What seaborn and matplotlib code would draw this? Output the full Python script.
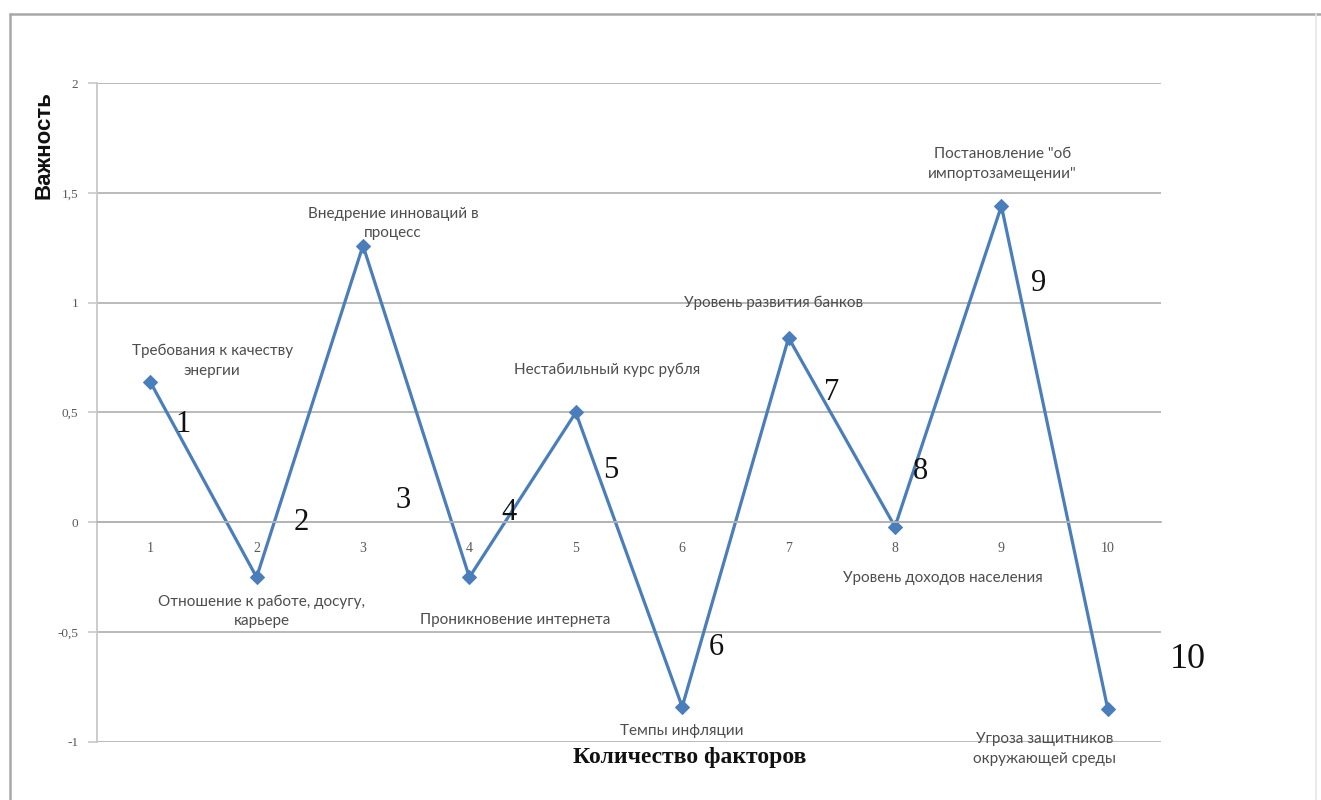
import matplotlib
matplotlib.use("Agg")
import matplotlib.pyplot as plt
import matplotlib.ticker as mticker
from matplotlib.lines import Line2D
import numpy as np
import seaborn as sns

# Factor index and its assessed importance
factors = [1, 2, 3, 4, 5, 6, 7, 8, 9, 10]
importance = [0.64, -0.25, 1.26, -0.25, 0.50, -0.84, 0.84, -0.02, 1.44, -0.85]

factor_names = [
    "Требования к качеству\nэнергии",
    "Отношение к работе, досугу,\nкарьере",
    "Внедрение инноваций в\nпроцесс",
    "Проникновение интернета",
    "Нестабильный курс рубля",
    "Темпы инфляции",
    "Уровень развития банков",
    "Уровень доходов населения",
    "Постановление \"об\nимпортозамещении\"",
    "Угроза защитников\nокружающей среды",
]
factor_numbers = ["1", "2", "3", "4", "5", "6", "7", "8", "9", "10"]

y_ticks = [-1, -0.5, 0, 0.5, 1, 1.5, 2]
y_tick_labels = ["-1", "-0,5", "0", "0,5", "1", "1,5", "2"]

# Label placement (pixel offsets from each point; y grows downward here)
name_offsets = [(62, -21), (5, 34), (30, -22), (46, 43), (31, -43),
                (0, 24), (-15, -35), (48, 51), (1, -42), (-63, 40)]
number_offsets = [(33, 43), (45, -55), (40, 255), (40, -65), (35, 58),
                  (34, -59), (43, 55), (25, -55), (37, 77), (80, -50)]

sns.set_theme(style="white")
plt.rcParams["font.family"] = ["Lato", "DejaVu Sans"]

W, H = 1321, 800
fig = plt.figure(figsize=(W / 100, H / 100), dpi=100)
fig.patch.set_facecolor("white")

# frame around the chart area: clear on the left and top, faint on the right
frame_l, frame_r, frame_t = 10 / W, 1316 / W, 1 - 14 / H
fig.add_artist(Line2D([frame_l, frame_l], [-0.01, frame_t], transform=fig.transFigure,
                      color="#a8a8a8", lw=1.8))
fig.add_artist(Line2D([frame_l, 1.01], [frame_t, frame_t], transform=fig.transFigure,
                      color="#a8a8a8", lw=1.8))
fig.add_artist(Line2D([frame_r, frame_r], [-0.01, frame_t], transform=fig.transFigure,
                      color="#e6e6e6", lw=1.2))

ax = fig.add_axes([97 / W, 1 - 742 / H, (1161 - 97) / W, (742 - 83) / H])

line_color = "#4a7ebb"
sns.lineplot(x=factors, y=importance, ax=ax, color=line_color, lw=2.3,
             marker="D", markersize=7, markeredgecolor=line_color,
             markerfacecolor=line_color)

ax.set_xlim(0.5, 10.5)
ax.set_ylim(-1, 2)

grid_color = "#b4b4b4"
ax.yaxis.grid(True, color=grid_color, lw=1.3)
ax.xaxis.grid(False)
ax.set_axisbelow(True)

for side in ["top", "right"]:
    ax.spines[side].set_visible(False)
ax.spines["left"].set_color("#c8c8c8")
ax.spines["left"].set_linewidth(1.3)
ax.spines["bottom"].set_position(("data", 0))
ax.spines["bottom"].set_color(grid_color)
ax.spines["bottom"].set_linewidth(1.3)

ax.set_xticks(factors, labels=[str(f) for f in factors])
ax.xaxis.set_minor_locator(mticker.FixedLocator(np.arange(0.5, 11, 1)))
ax.tick_params(axis="x", which="major", length=0, pad=14,
               labelsize=10, labelcolor="#595959")
ax.tick_params(axis="x", which="minor", length=5, direction="inout",
               color=grid_color, width=1)
for lbl in ax.get_xticklabels():
    lbl.set_fontfamily("Liberation Serif")

ax.set_yticks(y_ticks, labels=y_tick_labels)
ax.tick_params(axis="y", which="major", length=6.5, color="#c8c8c8",
               width=1.2, pad=7, labelsize=9.5, labelcolor="#595959", left=True)
for lbl in ax.get_yticklabels():
    lbl.set_fontfamily("Liberation Serif")

ax.set_xlabel("")
ax.set_ylabel("")

# factor names near each point
for f, v, name, (dx, dy) in zip(factors, importance, factor_names, name_offsets):
    ax.annotate(name, xy=(f, v), xytext=(dx, -dy), textcoords="offset pixels",
                ha="center", va="center", fontsize=11, color="#4d4d4d",
                linespacing=1.5, family=["Lato", "DejaVu Sans"])

# large sequence numbers beside the line
for f, v, num, (dx, dy) in zip(factors, importance, factor_numbers, number_offsets):
    ax.annotate(num, xy=(f, v), xytext=(dx, -dy), textcoords="offset pixels",
                ha="center", va="center", fontsize=26 if num == "10" else 22,
                color="#111111", family="Liberation Serif")

fig.text(44 / W, 1 - 145 / H, "Важность", rotation=90, ha="center",
         va="center", fontsize=16, fontweight="bold",
         family="Liberation Sans", color="#111111")
fig.text(690 / W, 1 - 757 / H, "Количество факторов", ha="center",
         va="center", fontsize=17, fontweight="bold",
         family="Liberation Serif", color="#111111")

fig.savefig("out.png", dpi=100, facecolor="white")
